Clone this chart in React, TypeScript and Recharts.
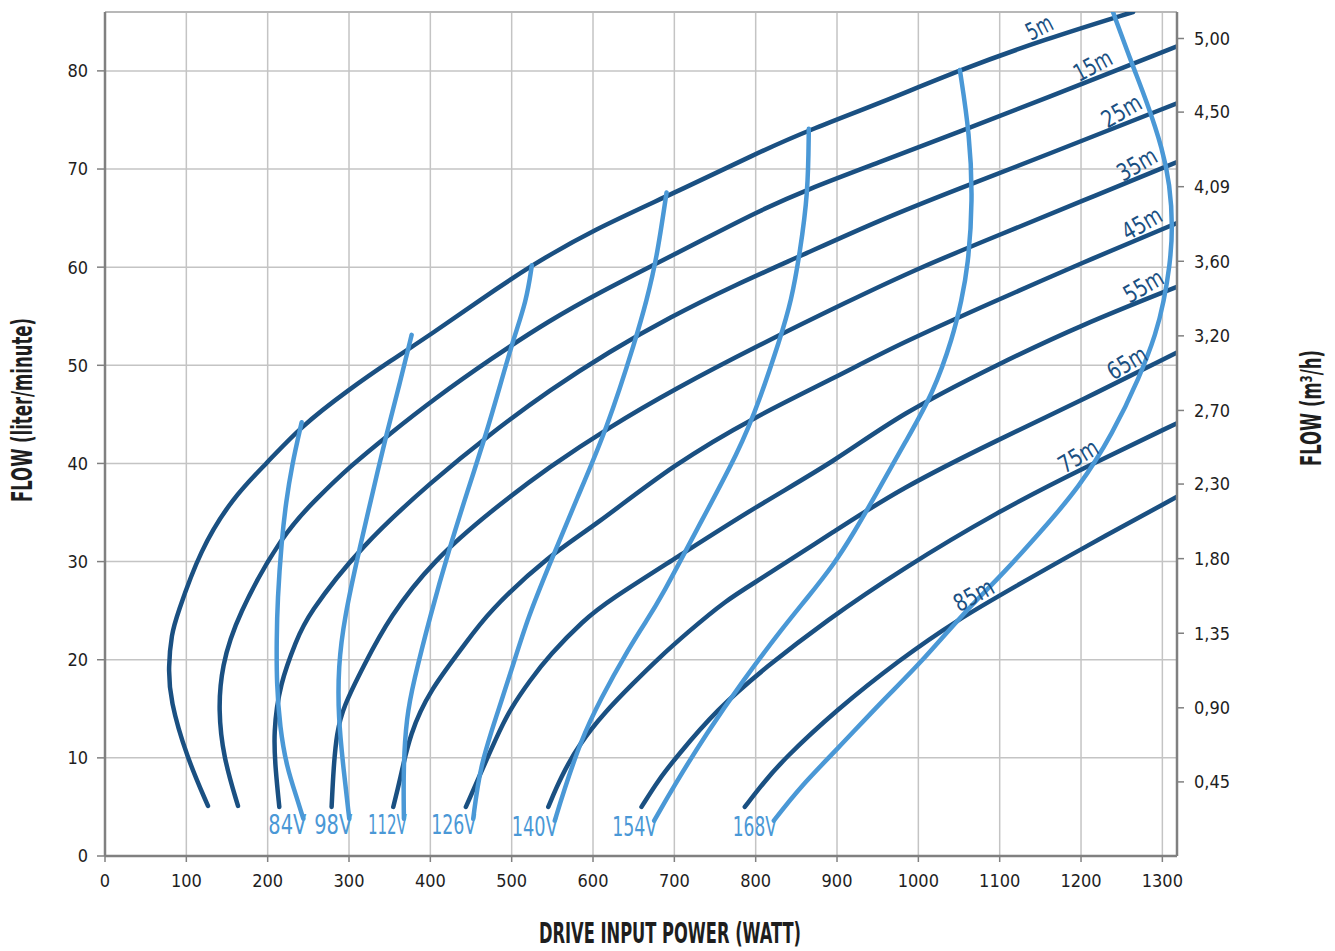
import { LineChart, Line, XAxis, YAxis, CartesianGrid, ReferenceLine, ReferenceDot } from 'recharts';

type Pt = [number, number];

// head curves: [drive input power (W), flow (l/min)]
const head5m: Pt[] = [[126.6, 5.1], [100.4, 10.1], [80, 15.9], [77.8, 19.3], [82, 22.7], [88, 24.4], [116.8, 31.2], [157.7, 36.6], [198.7, 40], [239.7, 43.7], [301, 47.6], [350, 50.4], [403.5, 53.3], [460, 56.6], [524.4, 60.2], [600, 63.8], [698.5, 67.5], [801, 71.6], [866.5, 74], [952.5, 76.7], [1051, 80.1], [1155, 83.2], [1264, 86]];
const head15m: Pt[] = [[163.5, 5.1], [145.4, 10.1], [139.3, 14.9], [143.4, 19.3], [161.9, 24.4], [219, 32.9], [260, 36.4], [301, 39.7], [350, 43], [403.5, 46.5], [475, 50.7], [547, 54.6], [610, 57.5], [674, 60.2], [740, 63], [801, 65.6], [862.5, 67.9], [952.5, 70.7], [1050, 73.8], [1150, 77], [1318, 82.5]];
const head25m: Pt[] = [[214.3, 5], [209.8, 8.7], [206.9, 12.5], [215, 17.6], [235.6, 22], [248, 24.4], [313.4, 31.5], [403.5, 38.3], [475, 43.1], [547, 47.5], [620, 51.4], [694.4, 54.9], [775, 58.2], [854.2, 61.1], [952.5, 64.8], [1050, 68], [1150, 71.2], [1318, 76.7]];
const head35m: Pt[] = [[278.6, 5], [281, 9], [284.8, 12.5], [292.9, 15.2], [317.5, 19.3], [350, 24.4], [403.5, 30.1], [475, 35.2], [547, 39.7], [620, 43.7], [700.6, 47.6], [800, 51.9], [915.7, 56.6], [1000, 59.9], [1100, 63.3], [1200, 66.7], [1318, 70.7]];
const head45m: Pt[] = [[354.4, 5], [362.6, 7.7], [374.9, 12.5], [399.5, 16.9], [440.4, 21.3], [470, 24.8], [547, 30.7], [600, 33.5], [700.6, 40], [800, 44.8], [899, 48.8], [977, 52.2], [1096, 56.6], [1200, 60.4], [1318, 64.5]];
const head55m: Pt[] = [[443.7, 5], [469, 9.8], [485.3, 12.8], [497.8, 14.9], [522.4, 17.9], [547, 20.5], [588, 24], [620.6, 26.1], [700.6, 30.3], [800, 35.6], [899, 40.3], [977, 45], [1100, 50.2], [1200, 54.1], [1318, 58]];
const head65m: Pt[] = [[545, 5], [560, 8], [583.8, 11.5], [615, 14.7], [649.4, 17.6], [680, 20.1], [715, 22.7], [764.2, 26.1], [800, 27.9], [899, 33.2], [977, 37.4], [1100, 42.5], [1200, 46.4], [1318, 51.3]];
const head75m: Pt[] = [[659.6, 5], [680, 7.7], [702.6, 10.1], [751.8, 14.9], [813.3, 19.3], [887, 24], [977, 29.1], [1100, 35.2], [1200, 39.4], [1318, 44.1]];
const head85m: Pt[] = [[786.6, 5], [810, 7.5], [833.7, 9.8], [899.3, 14.9], [977, 20], [1046.6, 24], [1120, 27.5], [1200.4, 31.3], [1318, 36.6]];

// voltage curves
const volt84: Pt[] = [[243.8, 3.8], [235.6, 6], [223.3, 9.1], [215, 13.1], [211, 17.6], [211, 22], [212, 26], [217.2, 32.2], [222.5, 36], [229.5, 39.7], [241.8, 44.2]];
const volt98: Pt[] = [[300.3, 3.8], [292.9, 9.1], [286.8, 14.2], [286.8, 19.3], [294, 24.2], [313.4, 31.5], [329, 37], [346.3, 43.1], [362, 48], [377, 53.1]];
const volt112: Pt[] = [[367.5, 3.8], [366.7, 9.1], [370.8, 14.2], [378.9, 17.6], [399.5, 24.4], [424, 31.5], [445, 37], [469, 43.1], [486, 48], [501.8, 52.6], [518.3, 56.6], [524.8, 60.2]];
const volt126: Pt[] = [[452.7, 3.8], [461, 9.1], [481, 14.2], [500, 19], [520.3, 24.4], [547, 29.8], [580, 36.4], [616.6, 43.4], [653.5, 52.9], [665.8, 56.6], [678, 60.7], [690.4, 67.6]];
const volt140: Pt[] = [[553, 3.6], [563.3, 6.4], [583.8, 11.5], [608.4, 15.9], [645, 21.3], [665.9, 24], [682.2, 26.1], [727.2, 33.2], [780.5, 41.4], [805, 46.5], [829.6, 52.6], [844, 56.6], [854.2, 61.4], [864.4, 67.5], [865.3, 74.1]];
const volt154: Pt[] = [[675.2, 3.6], [698.5, 7], [739.5, 12.5], [784.5, 17.9], [833.7, 23.3], [862.5, 26.2], [897, 29.8], [921, 33], [944.3, 36.3], [985.4, 42.4], [1018, 47.1], [1042.6, 52.9], [1053, 56.6], [1061, 60], [1067, 66.8], [1063, 73.6], [1051, 80.1]];
const volt168: Pt[] = [[822.3, 3.6], [854.2, 7], [899.3, 10.8], [956.6, 15.9], [1000, 19.4], [1057, 24.9], [1100, 28.4], [1149, 32.9], [1198.3, 37.6], [1239.3, 43.1], [1272, 48.8], [1292.6, 53.3], [1302, 56.6], [1309, 60], [1313, 64.1], [1309, 68.5], [1300.7, 71.9], [1280.3, 77], [1264, 80.4], [1239.3, 86]];

const headNames = ['5m', '15m', '25m', '35m', '45m', '55m', '65m', '75m', '85m'];
const headSeries = [head5m, head15m, head25m, head35m, head45m, head55m, head65m, head75m, head85m];
const voltNames = ['84V', '98V', '112V', '126V', '140V', '154V', '168V'];
const voltSeries = [volt84, volt98, volt112, volt126, volt140, volt154, volt168];

const xTicks = [0, 100, 200, 300, 400, 500, 600, 700, 800, 900, 1000, 1100, 1200, 1300];
const yTicks = [0, 10, 20, 30, 40, 50, 60, 70, 80];
const m3hTickPos = [7.55, 15.1, 22.7, 30.3, 37.9, 45.4, 53.0, 60.6, 68.2, 75.8, 83.3];
const m3hTickLabels = ['0,45', '0,90', '1,35', '1,80', '2,30', '2,70', '3,20', '3,60', '4,09', '4,50', '5,00'];

// where each head tag sits along its curve (power, W) and its tilt
const headTagAt = [1156, 1222, 1258, 1277, 1283, 1285, 1265, 1205, 1076];
const headTagAngle = [-27, -28, -30, -30, -30, -30, -31, -31, -29];
// the reference uses a very narrow face, so squeeze the tags to its widths
const headTagWidth = [27, 40, 42, 42, 42, 42, 42, 42, 42];
const voltTagWidth = [38, 38, 39, 45, 46, 45, 44];

const DARK = '#1a5082';
const LIGHT = '#4a98d6';
const GRID = '#c4c4c4';
const AXIS = '#808080';
const FONT = "'DejaVu Sans Condensed', 'Liberation Sans Narrow', sans-serif";

const toRows = (pts: Pt[]) => pts.map(([x, y]) => ({ x, y }));

function flowAt(pts: Pt[], x: number) {
  for (let i = pts.length - 1; i > 0; i--) {
    const [x0, y0] = pts[i - 1];
    const [x1, y1] = pts[i];
    if ((x >= x0 && x <= x1) || (x >= x1 && x <= x0)) {
      return y0 + ((x - x0) / (x1 - x0)) * (y1 - y0);
    }
  }
  return pts[pts.length - 1][1];
}

const tickStyle = { fill: '#1e1e1e', fontSize: 18, fontFamily: FONT };

export default function App() {
  return (
    <div style={{ position: 'absolute', left: 0, top: 0, background: '#fff' }}>
      <LineChart width={1335} height={951} margin={{ top: 12, right: 0, bottom: 0, left: 0 }}>
        <CartesianGrid yAxisId="left" stroke={GRID} strokeWidth={1.5} />
        <XAxis
          type="number"
          dataKey="x"
          domain={[0, 1318]}
          ticks={xTicks}
          allowDataOverflow
          height={95}
          tickSize={6}
          tickMargin={12}
          axisLine={{ stroke: AXIS, strokeWidth: 2.5 }}
          tickLine={{ stroke: AXIS, strokeWidth: 1.5 }}
          tick={tickStyle}
          label={{
            content: (p: any) => (
              <text
                x={p.viewBox.x + p.viewBox.width / 2 + 29}
                y={p.viewBox.y + 87}
                textAnchor="middle"
                textLength={262}
                lengthAdjust="spacingAndGlyphs"
                fontFamily={FONT}
                fontWeight="bold"
                fontSize={28}
                fill="#1e1e1e"
              >
                DRIVE INPUT POWER (WATT)
              </text>
            ),
          }}
        />
        <YAxis
          yAxisId="left"
          type="number"
          domain={[0, 86]}
          ticks={yTicks}
          allowDataOverflow
          width={105}
          tickSize={8}
          tickMargin={9}
          axisLine={{ stroke: AXIS, strokeWidth: 2.5 }}
          tickLine={{ stroke: AXIS, strokeWidth: 1.5 }}
          tick={tickStyle}
          label={{
            content: (p: any) => {
              const cx = 22;
              const cy = p.viewBox.y + p.viewBox.height / 2 - 24;
              return (
                <text
                  x={cx}
                  y={cy}
                  transform={`rotate(-90 ${cx} ${cy})`}
                  textAnchor="middle"
                  dominantBaseline="central"
                  textLength={184}
                  lengthAdjust="spacingAndGlyphs"
                  fontFamily={FONT}
                  fontWeight="bold"
                  fontSize={28}
                  fill="#1e1e1e"
                >
                  FLOW (liter/minute)
                </text>
              );
            },
          }}
        />
        <YAxis
          yAxisId="right"
          orientation="right"
          type="number"
          domain={[0, 86]}
          ticks={m3hTickPos}
          allowDataOverflow
          width={158}
          tickSize={7}
          tickMargin={10}
          axisLine={{ stroke: AXIS, strokeWidth: 2.5 }}
          tickLine={{ stroke: AXIS, strokeWidth: 1.5 }}
          tick={tickStyle}
          tickFormatter={(v: number) => m3hTickLabels[m3hTickPos.indexOf(v)] ?? ''}
          label={{
            content: (p: any) => {
              const cx = p.viewBox.x + 134;
              const cy = p.viewBox.y + p.viewBox.height / 2 - 26;
              return (
                <text
                  x={cx}
                  y={cy}
                  transform={`rotate(-90 ${cx} ${cy})`}
                  textAnchor="middle"
                  dominantBaseline="central"
                  textLength={116}
                  lengthAdjust="spacingAndGlyphs"
                  fontFamily={FONT}
                  fontWeight="bold"
                  fontSize={28}
                  fill="#1e1e1e"
                >
                  FLOW (m³/h)
                </text>
              );
            },
          }}
        />
        <ReferenceLine yAxisId="left" y={86} stroke="#b8b8b8" strokeWidth={2} />

        {headSeries.map((pts, i) => (
          <Line
            key={headNames[i]}
            yAxisId="left"
            data={toRows(pts)}
            dataKey="y"
            type="basis"
            stroke={DARK}
            strokeWidth={4.5}
            strokeLinecap="round"
            dot={false}
            activeDot={false}
            isAnimationActive={false}
          />
        ))}

        {voltSeries.map((pts, i) => (
          <Line
            key={voltNames[i]}
            yAxisId="left"
            data={toRows(pts)}
            dataKey="y"
            type="basis"
            stroke={LIGHT}
            strokeWidth={4.5}
            strokeLinecap="round"
            dot={false}
            activeDot={false}
            isAnimationActive={false}
            label={(p: any) =>
              p.index === 0 ? (
                <text
                  key={`vl-${i}`}
                  x={p.x + 3}
                  y={p.y + 15}
                  textAnchor="end"
                  textLength={voltTagWidth[i]}
                  lengthAdjust="spacingAndGlyphs"
                  fontFamily={FONT}
                  fontSize={27}
                  fill={LIGHT}
                >
                  {voltNames[i]}
                </text>
              ) : (
                <g key={`vl-${i}-${p.index}`} />
              )
            }
          />
        ))}

        {headSeries.map((pts, i) => (
          <ReferenceDot
            key={`tag-${headNames[i]}`}
            yAxisId="left"
            x={headTagAt[i]}
            y={flowAt(pts, headTagAt[i])}
            r={0}
            fill="none"
            stroke="none"
            label={{
              content: (p: any) => {
                const cx = p.viewBox.x + p.viewBox.width / 2;
                const cy = p.viewBox.y + p.viewBox.height / 2;
                return (
                  <text
                    x={cx}
                    y={cy}
                    dy={-5}
                    transform={`rotate(${headTagAngle[i]} ${cx} ${cy})`}
                    textAnchor="middle"
                    textLength={headTagWidth[i]}
                    lengthAdjust="spacingAndGlyphs"
                    fontFamily={FONT}
                    fontSize={24}
                    fill={DARK}
                  >
                    {headNames[i]}
                  </text>
                );
              },
            }}
          />
        ))}
      </LineChart>
    </div>
  );
}
